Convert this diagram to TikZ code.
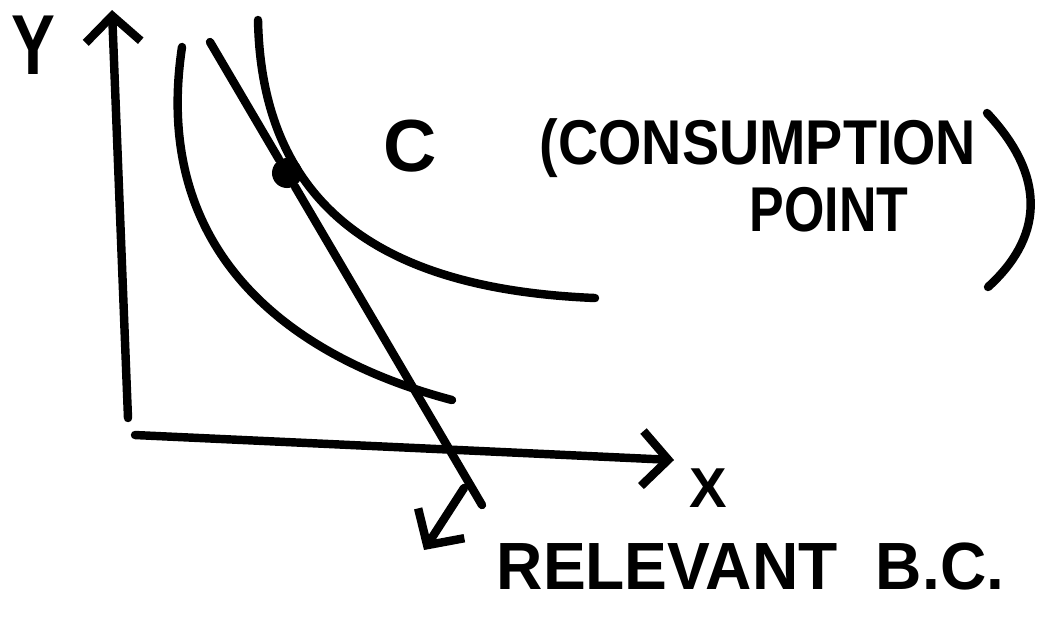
\documentclass[tikz,border=0pt]{standalone}
\usepackage{fontspec}
\setmainfont{Liberation Sans}
\usetikzlibrary{arrows.meta}
\tikzset{
  pen/.style={line width=2.4pt, line cap=round, line join=round},
  barb/.style={pen, -{Straight Barb[length=2.6mm, width=5.5mm, line width=2.4pt]}},
  hand/.style={inner sep=0pt, font=\fontsize{#1}{#1}\selectfont\bfseries},
  cdot/.style={circle, fill, inner sep=0pt, minimum size=0.3cm},
  every picture/.style={line cap=round, line join=round}
}

\begin{document}
\begin{tikzpicture}[x=0.01cm, y=-0.01cm]
  \useasboundingbox (0,0) rectangle (1061,617);

  % axes
  \coordinate (yfoot) at (128,418);
  \coordinate (ytip) at (112,10);
  \coordinate (xfoot) at (135,435);
  \coordinate (xtip) at (674,460);
  \draw[barb] (yfoot) -- (ytip);
  \draw[barb] (xfoot) -- (xtip);
  \node[hand=22] (ylab) at (33,45) {\scalebox{0.85}[1.1]{Y}};
  \node[hand=16] (xlab) at (708,488) {X};

  % indifference curves
  \coordinate (ic1a) at (182,47);
  \coordinate (ic1b) at (452,400);
  \coordinate (ic2a) at (258,20);
  \coordinate (ic2b) at (595,298);
  \draw[pen] (ic1a) .. controls (150,260) and (300,360) .. (ic1b);
  \draw[pen] (ic2a) .. controls (262,220) and (400,290) .. (ic2b);

  % budget constraint and consumption point
  \node[cdot] (cpt) at (287,173) {};
  \coordinate (bctop) at (210,42);
  \coordinate (bcbot) at (482,505);
  \draw[pen] (bctop) -- (cpt) -- (bcbot);

  % labels
  \node[hand=21] (clab) at (410,146) {C};
  \node[hand=18] (cons) at (758,148) {\scalebox{0.88}[1]{(CONSUMPTION}};
  \node[hand=18] (point) at (829,210) {\scalebox{0.82}[1]{POINT}};
  \draw[pen] (987,113) .. controls (1050,180) and (1040,240) .. (988,287);

  \coordinate (bcfork) at (464,488);
  \coordinate (bcarr) at (424,550);
  \draw[barb] (bcfork) -- (bcarr);
  \node[hand=19, anchor=west] (bclab) at (496,566) {\scalebox{0.96}[1]{RELEVANT\hspace{0.4cm}B.C.}};
\end{tikzpicture}
\end{document}
